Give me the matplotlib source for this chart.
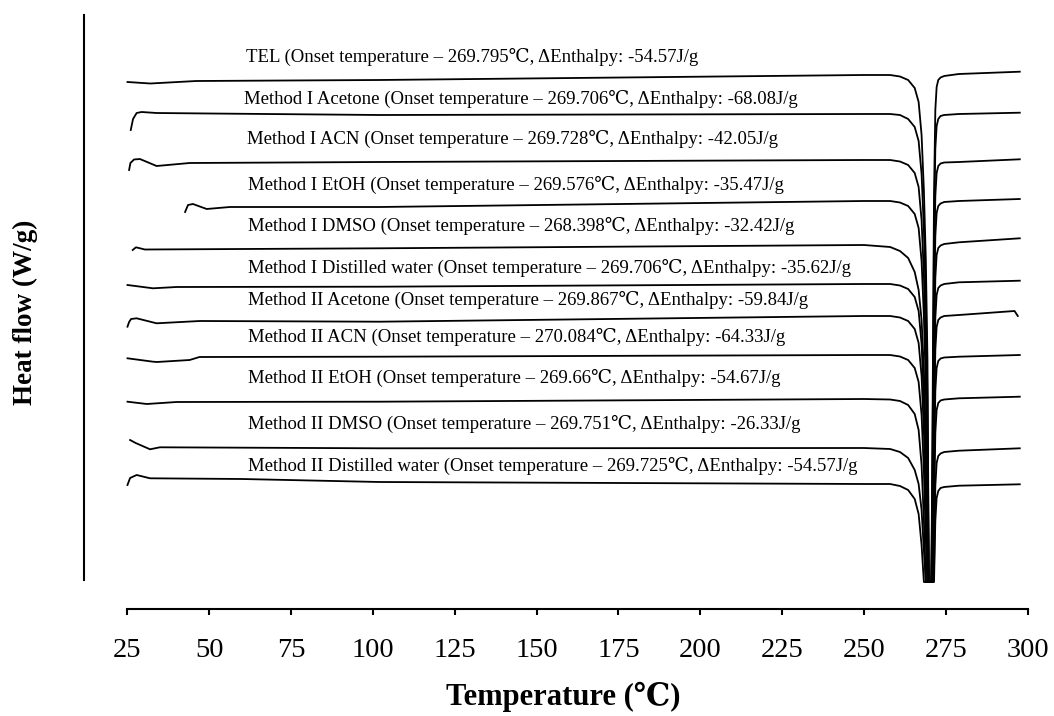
import matplotlib
matplotlib.use("Agg")
import matplotlib.pyplot as plt

plt.rcParams['font.family'] = ['Liberation Serif', 'DejaVu Serif', 'Noto Sans CJK SC']

labels = [
    "TEL (Onset temperature – 269.795℃, ΔEnthalpy: -54.57J/g",
    "Method I Acetone (Onset temperature – 269.706℃, ΔEnthalpy: -68.08J/g",
    "Method I ACN (Onset temperature – 269.728℃, ΔEnthalpy: -42.05J/g",
    "Method I EtOH (Onset temperature – 269.576℃, ΔEnthalpy: -35.47J/g",
    "Method I DMSO (Onset temperature – 268.398℃, ΔEnthalpy: -32.42J/g",
    "Method I Distilled water (Onset temperature – 269.706℃, ΔEnthalpy: -35.62J/g",
    "Method II Acetone (Onset temperature – 269.867℃, ΔEnthalpy: -59.84J/g",
    "Method II ACN (Onset temperature – 270.084℃, ΔEnthalpy: -64.33J/g",
    "Method II EtOH (Onset temperature – 269.66℃, ΔEnthalpy: -54.67J/g",
    "Method II DMSO (Onset temperature – 269.751℃, ΔEnthalpy: -26.33J/g",
    "Method II Distilled water (Onset temperature – 269.725℃, ΔEnthalpy: -54.57J/g",
]

# start of each run (temperature, heat flow offset)
left_t = [
    [25, 32, 46, 102],
    [26.0, 26.7, 27.8, 29.3, 33.9, 50, 102],
    [25.5, 25.9, 27.0, 28.8, 33.9, 44, 102],
    [42.6, 43.5, 45.0, 49.2, 56.3, 102],
    [26.6, 27.6, 30.3, 102],
    [25, 32.8, 40, 102],
    [25, 25.5, 26.1, 27.8, 33.9, 47.1, 102],
    [25, 32.8, 34, 44, 47, 102],
    [25, 30.9, 40, 102],
    [25.8, 27.5, 31.9, 34.9, 102],
    [25, 25.8, 27.8, 31.9, 60, 102],
]
left_hf = [
    [4.98, 4.965, 4.99, 5.00],
    [4.50, 4.61, 4.67, 4.68, 4.67, 4.665, 4.65],
    [4.10, 4.17, 4.205, 4.21, 4.14, 4.17, 4.18],
    [3.68, 3.75, 3.76, 3.71, 3.73, 3.73],
    [3.30, 3.327, 3.305, 3.317],
    [2.95, 2.917, 2.93, 2.933],
    [2.533, 2.58, 2.61, 2.617, 2.567, 2.59, 2.583],
    [2.217, 2.183, 2.18, 2.20, 2.23, 2.233],
    [1.783, 1.76, 1.78, 1.783],
    [1.40, 1.37, 1.307, 1.327, 1.317],
    [0.95, 1.02, 1.05, 1.017, 1.01, 0.98],
]

# melting endotherm region, common temperature grid
peak_t = [250, 258, 261, 263.5, 265.5, 266.7, 267.6, 268.3, 268.9, 269.4,
          269.8, 270.6, 271.0, 271.4, 271.8, 272.2, 272.7, 273.4, 274.5, 279]
peak_hf = [
    [5.05, 5.05, 5.035, 5.00, 4.92, 4.78, 4.45, 3.90, 3.20, 2.20,
     -0.02, -0.02, 1.85, 3.85, 4.70, 4.93, 5.00, 5.025, 5.04, 5.06],
    [4.66, 4.66, 4.65, 4.61, 4.53, 4.39, 4.06, 3.51, 2.81, 1.81,
     -0.02, -0.02, 1.46, 3.46, 4.31, 4.54, 4.61, 4.64, 4.65, 4.66],
    [4.20, 4.20, 4.185, 4.15, 4.07, 3.93, 3.60, 3.05, 2.35, 1.35,
     -0.02, -0.02, 0.99, 2.99, 3.84, 4.07, 4.14, 4.165, 4.175, 4.18],
    [3.79, 3.79, 3.775, 3.74, 3.66, 3.52, 3.19, 2.64, 1.94, 0.94,
     -0.02, -0.02, 0.59, 2.59, 3.44, 3.67, 3.74, 3.765, 3.78, 3.79],
    [3.35, 3.33, 3.29, 3.22, 3.08, 2.90, 2.60, 2.10, 1.40, 0.40,
     -0.02, -0.02, 0.17, 2.17, 3.02, 3.25, 3.32, 3.345, 3.36, 3.377],
    [2.96, 2.96, 2.945, 2.91, 2.83, 2.69, 2.36, 1.81, 1.11, 0.11,
     -0.02, -0.02, -0.02, 1.77, 2.62, 2.85, 2.92, 2.945, 2.96, 2.977],
    [2.64, 2.64, 2.625, 2.59, 2.51, 2.37, 2.04, 1.49, 0.79, -0.02,
     -0.02, -0.02, -0.02, 1.45, 2.30, 2.53, 2.60, 2.625, 2.64, 2.65],
    [2.25, 2.25, 2.235, 2.20, 2.12, 1.98, 1.65, 1.10, 0.40, -0.02,
     -0.02, -0.02, -0.02, 1.04, 1.89, 2.12, 2.19, 2.215, 2.225, 2.233],
    [1.81, 1.805, 1.79, 1.75, 1.66, 1.50, 1.15, 0.60, -0.02, -0.02,
     -0.02, -0.02, -0.02, 0.62, 1.47, 1.70, 1.77, 1.795, 1.805, 1.817],
    [1.32, 1.31, 1.28, 1.22, 1.10, 0.96, 0.70, 0.30, -0.02, -0.02,
     -0.02, -0.02, -0.02, 0.10, 0.94, 1.17, 1.24, 1.265, 1.28, 1.293],
    [0.96, 0.96, 0.94, 0.90, 0.81, 0.66, 0.35, -0.02, -0.02, -0.02,
     -0.02, -0.02, -0.02, -0.02, 0.59, 0.82, 0.89, 0.92, 0.93, 0.943],
]

# end of each run
end_t = [[297.6], [297.6], [297.6], [297.6], [297.6], [297.6],
         [296.0, 297.0], [297.6], [297.6], [297.6], [297.6]]
end_hf = [[5.083], [4.673], [4.207], [3.81], [3.417], [2.993],
          [2.69, 2.64], [2.25], [1.833], [1.317], [0.957]]

label_t = [61.2, 60.6, 61.5, 61.8, 61.8, 61.8, 61.8, 61.8, 61.8, 61.8, 61.8]
label_y = [5.23, 4.81, 4.41, 3.95, 3.54, 3.12, 2.80, 2.43, 2.02, 1.56, 1.14]

fig = plt.figure(figsize=(10.54, 7.16), dpi=100)
ax = fig.add_axes([84 / 1054, 1 - 580 / 716, 960 / 1054, 565 / 716])

for i in range(len(labels)):
    t = left_t[i] + peak_t + end_t[i]
    hf = left_hf[i] + peak_hf[i] + end_hf[i]
    ax.plot(t, hf, color='black', lw=1.3, clip_on=False)
    ax.text(label_t[i], label_y[i], labels[i], fontsize=13.5, ha='left', va='center')

ax.set_xlim(11.72, 305)
ax.set_ylim(0, 5.65)

ax.spines['top'].set_visible(False)
ax.spines['right'].set_visible(False)
ax.spines['left'].set_linewidth(1.5)
ax.spines['bottom'].set_linewidth(1.5)
ax.spines['bottom'].set_position(('outward', 21))
ax.spines['bottom'].set_bounds(25, 300)

ax.set_yticks([])
ax.set_xticks(range(25, 301, 25))
ax.tick_params(axis='x', direction='out', length=4.5, width=1.5, labelsize=20.5, pad=16)

fig.text(25 / 1054, 1 - 312 / 716, "Heat flow (W/g)", rotation=90, fontsize=19.5,
         fontweight='bold', ha='center', va='center')
fig.text(563 / 1054, 1 - 697 / 716, "Temperature (℃)", fontsize=22,
         fontweight='bold', ha='center', va='center')

fig.savefig("out.png", dpi=100)
